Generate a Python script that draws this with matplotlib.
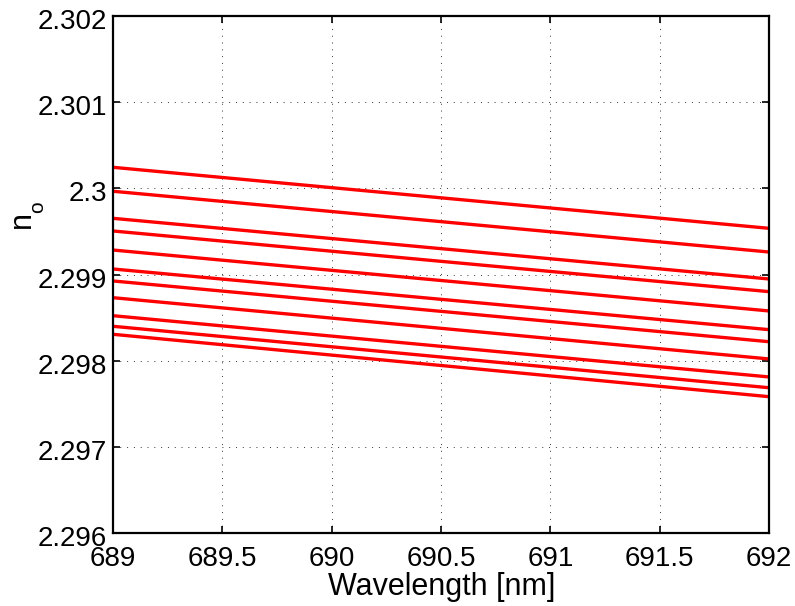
import matplotlib
matplotlib.use("Agg")
import matplotlib.pyplot as plt
import matplotlib.transforms as mtransforms
from matplotlib.ticker import FuncFormatter

plt.rcParams["font.family"] = ["Liberation Sans", "DejaVu Sans"]

# wavelength endpoints (nm) and n_o of each curve at those endpoints
wavelength = [689.0, 692.0]
n_o_start = [2.300244, 2.299966, 2.299652, 2.299505, 2.299284, 2.299064,
             2.298925, 2.298731, 2.298522, 2.298399, 2.298306]
n_o_end = [2.299536, 2.299261, 2.298948, 2.298801, 2.298577, 2.298360,
           2.298220, 2.298020, 2.297811, 2.297686, 2.297582]

xticks = [689, 689.5, 690, 690.5, 691, 691.5, 692]
yticks = [2.296, 2.297, 2.298, 2.299, 2.300, 2.301, 2.302]

W, H = 795, 606
fig = plt.figure(figsize=(W / 100, H / 100), dpi=100)
ax = fig.add_axes([113 / W, 1 - 533 / H, 656 / W, 517 / H])

for a, b in zip(n_o_start, n_o_end):
    ax.plot(wavelength, [a, b], color="#ff0000", linewidth=2.4, solid_capstyle="butt")

ax.set_xlim(689, 692)
ax.set_ylim(2.296, 2.302)
ax.set_xticks(xticks)
ax.set_yticks(yticks)
fmt = FuncFormatter(lambda v, p: f"{v:.6g}")
ax.xaxis.set_major_formatter(fmt)
ax.yaxis.set_major_formatter(fmt)

ax.grid(True, color="#333333", linewidth=0.7, linestyle=(0, (1, 6)))
for s in ax.spines.values():
    s.set_linewidth(1.6)
ax.tick_params(direction="in", length=5, width=1.2, labelsize=20,
               top=True, right=True)
ax.tick_params(axis="x", pad=9)
ax.tick_params(axis="y", pad=4.5)

# MATLAB puts the y tick labels a little below the tick
shift = mtransforms.ScaledTranslation(0, -3 / 100, fig.dpi_scale_trans)
for lbl in ax.get_yticklabels():
    lbl.set_transform(lbl.get_transform() + shift)

ax.set_xlabel("Wavelength [nm]", fontsize=22)
ax.xaxis.set_label_coords(0.501, -0.075)

# y label "n" with subscript "o", MATLAB style
fig.text(30 / W, 1 - 228 / H, "n", fontsize=22, rotation=90,
         rotation_mode="anchor", ha="left", va="baseline")
fig.text(43 / W, 1 - 213 / H, "o", fontsize=15, rotation=90,
         rotation_mode="anchor", ha="left", va="baseline")

fig.savefig("out.png", dpi=100)
